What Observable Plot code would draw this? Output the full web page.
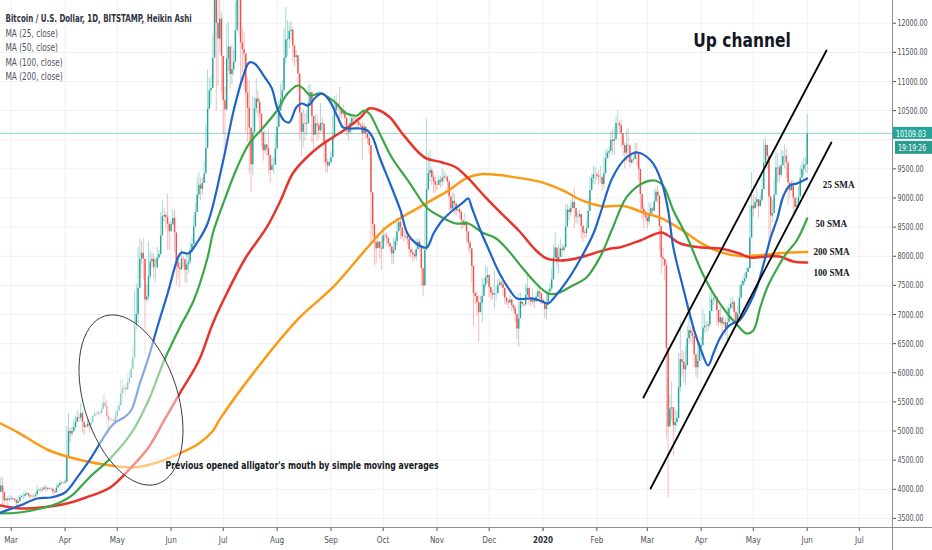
<!DOCTYPE html>
<html><head><meta charset="utf-8">
<script src="https://cdn.jsdelivr.net/npm/d3@7"></script>
<script src="https://cdn.jsdelivr.net/npm/@observablehq/plot@0.6"></script>
<style>
html,body{margin:0;padding:0;background:#fff;}
#chart{width:932px;height:550px;overflow:hidden;}
</style></head><body><div id="chart"></div>
<script>
// ---- Heikin Ashi daily candles [haClose, high, low] per month ----
const feb2019 = [[4055,4200,3940],[3950,4200,3730],[3805,3880,3740],[3830,3860,3790],[3810,3870,3670],[3830,3900,3780]];
const mar2019 = [[3840,3880,3810],[3830,3850,3790],[3810,3840,3770],[3760,3820,3690],[3790,3880,3700],[3860,3900,3830],[3875,3910,3850],
[3880,3940,3820],[3910,3960,3850],[3925,3950,3880],[3890,3930,3840],[3870,3900,3830],[3875,3900,3850],[3870,3920,3820],
[3900,3940,3860],[3970,4060,3910],[3985,4010,3960],[3980,4030,3940],[3995,4030,3960],[4020,4060,3980],[4010,4070,3950],
[3995,4030,3970],[4005,4030,3990],[4000,4020,3980],[3955,4000,3880],[3940,3970,3910],[4020,4090,3940],[4060,4090,4030],
[4100,4150,4050],[4110,4130,4070],[4105,4120,4090]];
const apr2019 = [[4125,4160,4090],[4560,5080,4110],[4990,5300,4800],[4950,5050,4800],[4990,5060,4900],[5060,5200,4980],[5150,5260,5030],
[5230,5350,5150],[5220,5300,5150],[5300,5470,5170],[5150,5340,4960],[5060,5100,4920],[5075,5110,5040],[5120,5180,5050],
[5100,5200,4970],[5140,5250,5020],[5250,5300,5200],[5290,5350,5250],[5285,5330,5230],[5310,5350,5270],[5300,5340,5240],
[5370,5450,5270],[5480,5620,5380],[5420,5640,5380],[5250,5520,5040],[5180,5300,4950],[5190,5220,5150],[5185,5220,5140],
[5160,5200,5100],[5240,5340,5140]];
const may2019 = [[5340,5400,5300],[5430,5500,5360],[5640,5880,5450],[5720,5880,5500],[5740,5800,5640],[5700,5800,5600],[5830,5980,5700],
[5900,6000,5800],[6060,6200,5950],[6250,6450,6100],[6800,7400,6350],[7000,7520,6700],[7450,8150,6850],[7950,8300,7600],
[8050,8250,7850],[7950,8300,7600],[7250,7950,6300],[7300,7500,7200],[7650,8250,7250],[7900,8100,7600],[7950,8050,7800],
[7800,8050,7600],[7800,7950,7550],[7970,8150,7850],[8030,8100,7950],[8350,8750,8000],[8680,8950,8550],[8700,8820,8600],
[8660,8750,8450],[8550,9070,8100],[8420,8580,8100]];
const jun2019 = [[8540,8600,8450],[8650,8800,8520],[8400,8780,8070],[7900,8140,7500],[7800,7950,7600],[7770,7880,7460],[7950,8120,7760],
[7940,8000,7800],[7760,7950,7550],[7850,8050,7530],[7900,8000,7700],[8100,8230,7860],[8200,8320,8050],[8500,8700,8200],
[8750,8900,8600],[9050,9350,8850],[9220,9450,8980],[9150,9350,8950],[9250,9330,9050],[9410,9620,9250],[9850,10250,9520],
[10520,11200,9950],[10840,11050,10550],[10880,11100,10600],[11400,11800,10950],[12590,13880,11700],[12000,13310,10490],[11730,12450,10910],
[12070,12400,11510],[11430,12180,10800]];
const jul2019 = [[10670,11210,10090],[10510,10910,9740],[11390,11970,10820],[11590,12010,11170],[11120,11400,10870],[11200,11620,10950],[11330,11540,11100],
[11870,12350,11390],[12470,12780,12230],[12410,13130,11780],[11660,12140,11010],[11550,11910,11140],[11470,11840,10840],[10800,11450,10120],
[10540,11050,9950],[10200,11000,9420],[9570,9960,9100],[10120,10740,9380],[10530,10720,10230],[10700,11050,10450],[10640,10840,10370],
[10440,10680,10140],[10125,10350,9880],[9810,9920,9630],[9910,10150,9770],[9850,9920,9720],[9730,10170,9410],[9470,9580,9250],
[9555,9680,9470],[9560,9700,9420],[9840,10090,9600]];
const aug2019 = [[10210,10450,9920],[10490,10660,10370],[10700,10950,10500],[10840,11010,10550],[11400,11900,10960],[11710,12270,11290],[11720,12040,11430],
[11860,12000,11560],[11880,12030,11690],[11610,11920,11320],[11410,11520,11250],[11440,11530,11320],[11130,11420,10830],[10460,10890,10000],
[10130,10440,9720],[10270,10520,9860],[10260,10450,9980],[10280,10490,10070],[10630,10930,10320],[10810,10950,10620],[10400,10760,9950],
[10080,10230,9830],[10270,10440,10080],[10240,10420,9970],[10150,10300,10010],[10280,10620,10130],[10260,10380,10090],[9960,10280,9600],
[9610,9760,9420],[9550,9660,9430],[9610,9670,9530]];
const sep2019 = [[9690,9800,9580],[10060,10400,9730],[10500,10740,10310],[10610,10770,10480],[10570,10630,10480],[10530,10900,10290],[10440,10560,10350],
[10490,10600,10410],[10370,10500,10220],[10210,10340,10060],[10120,10220,9980],[10280,10440,10100],[10360,10440,10230],[10350,10420,10290],
[10350,10390,10310],[10300,10390,10190],[10250,10300,10200],[10230,10280,10190],[10100,10300,9650],[10220,10290,10130],[10100,10180,10010],
[10020,10070,9920],[9900,10070,9730],[9090,9800,8220],[8540,8740,8330],[8230,8490,7830],[8130,8270,7870],[8240,8320,8140],
[8140,8250,7950],[8120,8330,7760]];
const oct2019 = [[8350,8500,8260],[8345,8390,8250],[8310,8410,8180],[8220,8260,8150],[8160,8220,8070],[8040,8160,7850],[8100,8310,7860],
[8250,8330,8180],[8420,8660,8180],[8580,8640,8490],[8490,8770,8290],[8335,8410,8280],[8330,8430,8240],[8340,8390,8280],
[8295,8410,8190],[8110,8220,7990],[8060,8120,7970],[8030,8140,7900],[7990,8080,7940],[8110,8300,7910],[8240,8300,8190],
[8170,8300,8070],[7790,8090,7480],[7495,7530,7300],[8100,8790,7480],[9140,10350,8650],[9420,9750,9120],[9470,9810,9260],
[9350,9520,9220],[9285,9430,9080],[9220,9380,9100]];
const nov2019 = [[9215,9280,9130],[9300,9380,9250],[9275,9370,9170],[9340,9510,9190],[9360,9460,9260],[9355,9420,9300],[9275,9370,9140],
[9020,9270,8770],[8810,8870,8770],[8945,9100,8800],[8900,9070,8710],[8780,8850,8680],[8800,8840,8760],[8750,8830,8650],
[8610,8770,8460],[8530,8590,8480],[8590,8730,8500],[8420,8570,8230],[8230,8310,8090],[8130,8270,8030],[7830,8100,7540],
[7360,7700,6790],[7310,7370,7170],[7200,7400,6970],[7030,7320,6520],[7195,7320,7100],[7310,7620,6860],[7510,7620,7430],
[7630,7840,7460],[7670,7810,7520]];
const dec2019 = [[7465,7570,7290],[7365,7470,7230],[7330,7420,7250],[7350,7740,7090],[7355,7480,7230],[7495,7600,7380],[7540,7620,7490],
[7510,7580,7450],[7450,7620,7310],[7285,7400,7170],[7215,7270,7160],[7195,7270,7090],[7250,7310,7220],[7155,7240,7050],
[7100,7170,7050],[7000,7140,6850],[6750,6920,6570],[6925,7350,6430],[7215,7370,7060],[7170,7220,7120],[7165,7190,7120],
[7330,7520,7140],[7450,7700,7260],[7290,7440,7160],[7215,7270,7130],[7250,7440,7160],[7215,7290,7100],[7295,7370,7240],
[7390,7510,7290],[7360,7450,7270],[7250,7340,7170]];
const jan2020 = [[7205,7250,7170],[7085,7210,6930],[7165,7410,6910],[7375,7430,7310],[7440,7540,7400],[7595,7780,7410],[7970,8180,7770],
[8140,8400,7960],[7930,8080,7790],[7980,8200,7700],[8125,8290,7990],[8100,8200,7980],[8150,8200,8070],[8500,8880,8140],
[8795,8890,8660],[8750,8850,8610],[8820,8960,8680],[8925,9010,8810],[8820,9160,8470],[8670,8750,8560],[8675,8760,8540],
[8715,8790,8640],[8515,8680,8300],[8400,8520,8240],[8390,8440,8300],[8470,8600,8320],[8770,8980,8590],[9130,9360,8890],
[9335,9410,9260],[9400,9550,9230],[9400,9520,9230]];
const feb2020 = [[9375,9440,9310],[9355,9470,9220],[9355,9540,9250],[9230,9330,9110],[9415,9700,9160],[9675,9820,9540],[9770,9830,9730],
[9800,9880,9670],[9990,10130,9850],[9970,10170,9740],[10000,10210,9730],[10280,10390,10200],[10280,10500,10110],[10240,10320,10120],
[10105,10340,9870],[9900,10050,9720],[9770,9940,9500],[9905,10160,9630],[9895,10190,9610],[9600,9640,9510],[9650,9720,9580],
[9660,9700,9600],[9795,9940,9660],[9765,9950,9540],[9490,9650,9300],[9060,9340,8730],[8805,8980,8630],[8710,8890,8470],
[8660,8780,8600]];
const mar2020 = [[8590,8730,8470],[8720,8920,8530],[8815,8900,8700],[8775,8840,8710],[8935,9140,8760],[9100,9170,9030],[9035,9220,8890],
[8510,8910,8100],[7975,8180,7690],[7945,8140,7810],[7840,7950,7590],[6420,7930,4860],[5070,5900,3850],[5380,5630,5120],
[5400,5840,5170],[5090,5390,4570],[5145,5370,4980],[5215,5330,5070],[5750,6330,5240],[6225,6900,5670],[6175,6380,5930],
[6050,6360,5820],[6120,6440,5780],[6585,6790,6380],[6720,6960,6490],[6675,6780,6530],[6625,6850,6470],[6310,6470,6080],
[6085,6250,5920],[6195,6520,5900],[6435,6500,6370]];
const apr2020 = [[6465,6610,6200],[6770,7090,6590],[6800,7000,6670],[6795,6880,6700],[6815,6880,6710],[7050,7360,6770],[7250,7460,7090],
[7265,7380,7150],[7295,7340,7200],[7070,7300,6800],[6860,6930,6790],[6940,7120,6810],[6835,6970,6550],[6860,6960,6790],
[6760,6930,6630],[6860,7130,6550],[7100,7170,7020],[7175,7270,7080],[7205,7290,7090],[7040,7240,6830],[6880,6930,6830],
[7000,7150,6870],[7280,7490,7080],[7500,7570,7430],[7565,7670,7470],[7615,7700,7510],[7720,7800,7620],[7790,7810,7730],
[8315,8870,7790],[8860,9440,8530]];
const may2020 = [[8815,9050,8670],[8920,9010,8810],[8970,9170,8830],[8850,8960,8650],[8960,9060,8860],[9145,9370,8920],[9590,9990,9140],
[9900,10030,9770],[9715,9910,9510],[9015,9600,8120],[8690,9030,8370],[8735,8950,8570],[9050,9320,8800],[9515,9790,9250],
[9520,9760,9260],[9385,9560,9260],[9555,9820,9350],[9710,9810,9640],[9715,9910,9500],[9605,9830,9330],[9260,9560,8870],
[9125,9230,9010],[9205,9300,9120],[9000,9300,8700],[8840,8950,8720],[8875,8990,8760],[9015,9200,8830],[9340,9550,9110],
[9490,9610,9390],[9555,9700,9370],[9575,9700,9430]];
const jun2020 = [[10100,10430,9420]];
const firstOpen = 3950;
const lastPrice = 10109.03;
const lastPriceLabel = "10109.03";
const countdownLabel = "19:19:26";

// ---- moving averages [date, value] ----
const ma25 = [["2019-02-23",3602],["2019-03-06",3722],["2019-03-16",3842],["2019-03-24",3859],["2019-04-01",3945],["2019-04-08",4203],["2019-04-15",4495],["2019-04-21",4786],["2019-04-27",5061],["2019-04-30",5147],["2019-05-05",5233],["2019-05-09",5353],["2019-05-14",5816],["2019-05-19",6262],["2019-05-24",6777],["2019-05-30",7361],["2019-06-05",7979],["2019-06-07",8065],["2019-06-11",8048],["2019-06-16",8236],["2019-06-22",8562],["2019-07-01",9644],["2019-07-07",10502],["2019-07-13",11137],["2019-07-16",11326],["2019-07-19",11309],["2019-07-25",11068],["2019-07-29",10880],["2019-08-01",10553],["2019-08-05",10330],["2019-08-08",10296],["2019-08-12",10553],["2019-08-15",10622],["2019-08-19",10588],["2019-08-23",10725],["2019-08-27",10794],["2019-08-31",10674],["2019-09-05",10382],["2019-09-08",10210],["2019-09-12",10193],["2019-09-18",10193],["2019-09-22",10159],["2019-09-25",10039],["2019-09-29",9695],["2019-10-05",9249],["2019-10-11",8786],["2019-10-15",8391],["2019-10-20",8219],["2019-10-26",8150],["2019-10-30",8391],["2019-11-04",8614],["2019-11-10",8786],["2019-11-16",8923],["2019-11-19",8992],["2019-11-21",8837],["2019-11-26",8442],["2019-12-01",8099],["2019-12-07",7704],["2019-12-13",7412],["2019-12-17",7275],["2019-12-26",7275],["2019-12-30",7241],["2020-01-04",7189],["2020-01-07",7275],["2020-01-15",7584],["2020-01-23",7979],["2020-01-30",8391],["2020-02-03",8734],["2020-02-10",9352],["2020-02-18",9695],["2020-02-24",9781],["2020-03-03",9644],["2020-03-09",9300],["2020-03-13",8786],["2020-03-16",8150],["2020-03-22",7412],["2020-03-28",6726],["2020-04-01",6383],["2020-04-05",6125],["2020-04-08",6331],["2020-04-12",6606],["2020-04-16",6777],["2020-04-19",6846],["2020-04-23",6898],["2020-04-29",7189],["2020-05-03",7464],["2020-05-07",7876],["2020-05-11",8322],["2020-05-15",8665],["2020-05-18",9009],["2020-05-22",9215],["2020-05-26",9249],["2020-06-01",9335]];
const ma50 = [["2019-02-23",3585],["2019-03-06",3602],["2019-03-18",3670],["2019-03-29",3774],["2019-04-05",3894],["2019-04-15",4203],["2019-04-27",4529],["2019-05-09",4958],["2019-05-19",5524],["2019-05-28",6211],["2019-06-06",6777],["2019-06-14",7241],["2019-06-22",7979],["2019-06-25",8391],["2019-07-01",8906],["2019-07-09",9524],["2019-07-16",9936],["2019-07-24",10210],["2019-08-01",10502],["2019-08-07",10794],["2019-08-13",10931],["2019-08-16",10880],["2019-08-20",10760],["2019-08-26",10794],["2019-09-02",10674],["2019-09-10",10451],["2019-09-16",10416],["2019-09-20",10502],["2019-09-23",10451],["2019-09-29",10107],["2019-10-06",9695],["2019-10-14",9352],["2019-10-18",9180],["2019-10-26",8837],["2019-11-04",8665],["2019-11-12",8562],["2019-11-19",8562],["2019-11-27",8408],["2019-12-05",8305],["2019-12-12",8099],["2019-12-20",7807],["2019-12-28",7533],["2020-01-04",7361],["2020-01-09",7361],["2020-01-18",7498],["2020-01-26",7636],["2020-02-03",7996],["2020-02-10",8480],["2020-02-18",9009],["2020-02-27",9249],["2020-03-05",9300],["2020-03-10",9215],["2020-03-16",8786],["2020-03-24",8322],["2020-04-01",7756],["2020-04-08",7361],["2020-04-16",7018],["2020-04-21",6846],["2020-04-27",6674],["2020-05-01",6726],["2020-05-05",7121],["2020-05-09",7464],["2020-05-15",7807],["2020-05-20",8048],["2020-05-26",8271],["2020-06-01",8648]];
const ma100 = [["2019-02-23",3722],["2019-03-06",3670],["2019-03-18",3687],["2019-04-02",3756],["2019-04-13",3859],["2019-04-27",4031],["2019-05-09",4374],["2019-05-19",4718],["2019-05-28",5181],["2019-06-06",5645],["2019-06-17",6211],["2019-06-25",6846],["2019-07-03",7361],["2019-07-14",7979],["2019-07-26",8494],["2019-08-03",8957],["2019-08-10",9421],["2019-08-18",9695],["2019-08-26",9901],["2019-09-02",10039],["2019-09-10",10193],["2019-09-18",10382],["2019-09-23",10536],["2019-09-29",10502],["2019-10-05",10382],["2019-10-12",10107],["2019-10-22",9764],["2019-10-26",9678],["2019-11-04",9610],["2019-11-12",9524],["2019-11-19",9335],["2019-11-29",9009],["2019-12-08",8734],["2019-12-18",8442],["2019-12-28",8099],["2020-01-03",7962],["2020-01-11",7928],["2020-01-20",7962],["2020-01-30",8048],["2020-02-09",8134],["2020-02-14",8150],["2020-02-26",8271],["2020-03-09",8408],["2020-03-13",8356],["2020-03-20",8219],["2020-04-01",8150],["2020-04-12",8134],["2020-04-23",8048],["2020-04-29",7979],["2020-05-09",7996],["2020-05-16",7996],["2020-05-24",7910],["2020-06-01",7893]];
const ma200 = [["2019-02-23",5129],["2019-03-06",4957],["2019-03-23",4666],["2019-04-11",4494],["2019-04-27",4409],["2019-05-10",4374],["2019-05-24",4460],["2019-06-06",4615],["2019-06-17",4786],["2019-06-25",5000],["2019-06-29",5200],["2019-07-24",6211],["2019-08-14",6949],["2019-09-02",7464],["2019-09-22",8150],["2019-10-03",8500],["2019-10-22",8843],["2019-10-26",8912],["2019-11-08",9135],["2019-11-18",9341],["2019-11-27",9410],["2019-12-07",9393],["2019-12-19",9341],["2019-12-31",9272],["2020-01-12",9135],["2020-01-23",8963],["2020-02-04",8860],["2020-02-17",8860],["2020-02-27",8757],["2020-03-09",8654],["2020-03-21",8448],["2020-04-01",8225],["2020-04-12",8071],["2020-04-24",8002],["2020-05-05",8019],["2020-05-17",8054],["2020-06-01",8071]];

// ---- annotations ----
const channelUpper = [["2020-02-27T19:00Z",5575],["2020-06-12T02:00Z",11531]];
const channelLower = [["2020-03-02T22:00Z",4013],["2020-06-14T22:00Z",9952]];
const ellipseCenter = ["2019-05-09T05:00Z",5524];
const smaLabels = [
  {text:"25 SMA", date:"2020-06-10T00:00Z", price:9232},
  {text:"50 SMA", date:"2020-06-05T19:00Z", price:8562},
  {text:"200 SMA", date:"2020-06-04T14:00Z", price:8082},
  {text:"100 SMA", date:"2020-06-04T14:00Z", price:7721}
];
const titleNote = {text:"Up channel", date:"2020-04-24T12:00Z", price:11703};
const mouthNote = {text:"Previous opened alligator's mouth by simple moving averages", date:"2019-05-28T19:00Z", price:4409};
const legendTitle = "Bitcoin / U.S. Dollar, 1D, BITSTAMP, Heikin Ashi";
const legendItems = ["MA (25, close)","MA (50, close)","MA (100, close)","MA (200, close)"];

// ---- axes ----
const priceTicks = [3500,4000,4500,5000,5500,6000,6500,7000,7500,8000,8500,9000,9500,10000,10500,11000,11500,12000];
const priceLabels = [3500,4000,4500,5000,5500,6000,6500,7000,7500,8000,8500,9000,9500,10500,11000,11500,12000]; // 10000 is hidden under the price badges
const monthTicks = ["2019-03-01","2019-04-01","2019-05-01","2019-06-01","2019-07-01","2019-08-01","2019-09-01","2019-10-01","2019-11-01","2019-12-01","2020-01-01","2020-02-01","2020-03-01","2020-04-01","2020-05-01","2020-06-01","2020-07-01"];
const monthLabels = ["Mar","Apr","May","Jun","Jul","Aug","Sep","Oct","Nov","Dec","2020","Feb","Mar","Apr","May","Jun","Jul"];
const xDomain = [new Date("2019-02-22T20:15Z"), new Date("2020-07-20T02:00Z")];
const yDomain = [3344, 12390];

const blocks = [["2019-02-23",feb2019],["2019-03-01",mar2019],["2019-04-01",apr2019],["2019-05-01",may2019],["2019-06-01",jun2019],["2019-07-01",jul2019],["2019-08-01",aug2019],["2019-09-01",sep2019],["2019-10-01",oct2019],["2019-11-01",nov2019],["2019-12-01",dec2019],["2020-01-01",jan2020],["2020-02-01",feb2020],["2020-03-01",mar2020],["2020-04-01",apr2020],["2020-05-01",may2020],["2020-06-01",jun2020]];

const DAY = 86400000;
const UP = "#26a69a", DOWN = "#ef5350";
const candles = [];
let prev = firstOpen;
for (const [s, rows] of blocks) {
  const t0 = Date.parse(s);
  rows.forEach(([c,h,l], i) => {
    candles.push({date: new Date(t0 + i*DAY), o: prev, c, h, l, col: c >= prev ? UP : DOWN});
    prev = c;
  });
}
const tickDates = monthTicks.map(d => new Date(d));
const labelOf = new Map(tickDates.map((d,i) => [+d, monthLabels[i]]));
const boldTick = tickDates.filter((d,i) => monthLabels[i] === "2020");
const plainTicks = tickDates.filter((d,i) => monthLabels[i] !== "2020");

const SANS = "'DejaVu Sans Condensed','DejaVu Sans',sans-serif";
const SERIF = "'Liberation Serif','DejaVu Serif',serif";
const SVGNS = "http://www.w3.org/2000/svg";
function el(tag, attrs, text) {
  const e = document.createElementNS(SVGNS, tag);
  for (const k in attrs) e.setAttribute(k, attrs[k]);
  if (text != null) e.textContent = text;
  return e;
}
const line = (data, stroke, w) => Plot.line(data, {x: d => new Date(d[0]), y: d => d[1], stroke, strokeWidth: w, curve: "catmull-rom", clip: true});

function ellipseMark(index, scales) {
  const cx = scales.x(new Date(ellipseCenter[0])), cy = scales.y(ellipseCenter[1]);
  return el("ellipse", {cx, cy, rx: 88, ry: 47, transform: `rotate(72.6 ${cx} ${cy})`, fill: "#fff", "fill-opacity": 0.45, stroke: "#3a3a3a", "stroke-width": 0.9});
}
function chrome(index, scales, values, dim) {
  const g = el("g", {"text-anchor": "start"});
  const right = dim.width - dim.marginRight, bottom = dim.height - dim.marginBottom;
  g.appendChild(el("line", {x1: right + 0.5, x2: right + 0.5, y1: 0, y2: dim.height, stroke: "#8a8e99", "stroke-width": 1}));
  g.appendChild(el("line", {x1: 0, x2: dim.width, y1: bottom + 0.5, y2: bottom + 0.5, stroke: "#8a8e99", "stroke-width": 1}));
  const y = scales.y(lastPrice);
  g.appendChild(el("rect", {x: right + 1, y: y - 6, width: dim.marginRight - 1, height: 12, fill: UP}));
  g.appendChild(el("text", {x: right + 4, y: y + 0.5, fill: "#fff", "text-anchor": "start", "font-size": 9.5, "font-family": SANS, "dominant-baseline": "central"}, lastPriceLabel));
  g.appendChild(el("rect", {x: right + 3, y: y + 8, width: dim.marginRight - 3, height: 13, fill: "#2a9d8f"}));
  g.appendChild(el("text", {x: right + 6, y: y + 14.8, fill: "#fff", "text-anchor": "start", "font-size": 9.5, "font-family": SANS, "dominant-baseline": "central"}, countdownLabel));
  return g;
}

const plot = Plot.plot({
  width: 932, height: 550,
  marginLeft: 0, marginRight: 40, marginTop: 0, marginBottom: 23,
  style: {fontFamily: SANS, background: "#fff", overflow: "hidden"},
  x: {type: "utc", domain: xDomain, axis: null},
  y: {domain: yDomain, axis: null},
  color: {type: "identity"},
  marks: [
    Plot.gridX(tickDates, {stroke: "#edf0f4", strokeOpacity: 1}),
    Plot.gridY(priceTicks, {stroke: "#edf0f4", strokeOpacity: 1}),
    Plot.ruleY([lastPrice], {stroke: UP, strokeOpacity: 0.5}),
    Plot.ruleX(candles, {x: "date", y1: "l", y2: "h", stroke: "col", strokeOpacity: 0.5, strokeWidth: 0.8, clip: true}),
    Plot.ruleX(candles, {x: "date", y1: "o", y2: "c", stroke: "col", strokeWidth: 1.45, clip: true}),
    line(ma200, "#fb9a14", 2.5),
    line(ma100, "#e8352b", 2.5),
    line(ma50, "#3ba647", 2.2),
    line(ma25, "#1f64c8", 2.2),
    ellipseMark,
    Plot.line(channelUpper, {x: d => new Date(d[0]), y: d => d[1], stroke: "#000", strokeWidth: 1.8}),
    Plot.line(channelLower, {x: d => new Date(d[0]), y: d => d[1], stroke: "#000", strokeWidth: 1.8}),
    Plot.text([titleNote], {x: d => new Date(d.date), y: "price", text: "text", fontSize: 20, fontWeight: "bold", fill: "#131722"}),
    Plot.text([mouthNote], {x: d => new Date(d.date), y: "price", text: "text", textAnchor: "start", fontSize: 11, fontWeight: "bold", fill: "#131722"}),
    Plot.text(smaLabels, {x: d => new Date(d.date), y: "price", text: "text", textAnchor: "start", fontSize: 10.5, fontWeight: "bold", fill: "#131722", fontFamily: SERIF}),
    Plot.text([legendTitle], {frameAnchor: "top-left", text: d => d, dx: 5, dy: 14, textAnchor: "start", fontSize: 10.5, fontWeight: "bold", fill: "#2f3241"}),
    ...legendItems.map((t, i) => Plot.text([t], {frameAnchor: "top-left", text: d => d, dx: 5, dy: 29 + i * 14.4, textAnchor: "start", fontSize: 10.5, fill: "#50535e"})),
    Plot.axisY(priceLabels, {anchor: "right", tickSize: 3, tickPadding: 2, tickFormat: d => d.toFixed(2), fontSize: 9.5, color: "#50535e"}),
    Plot.axisX(plainTicks, {anchor: "bottom", tickSize: 4, tickPadding: 5, tickFormat: d => labelOf.get(+d), fontSize: 9.5, color: "#50535e"}),
    Plot.axisX(boldTick, {anchor: "bottom", tickSize: 4, tickPadding: 5, tickFormat: d => labelOf.get(+d), fontSize: 9.5, fontWeight: "bold", color: "#2f3241"}),
    chrome
  ]
});
document.getElementById("chart").appendChild(plot);

// narrow the glyphs horizontally to the condensed look of the original (styling only)
function condense(t, f) {
  const x = parseFloat(t.getAttribute("x")) || 0;
  const tr = t.getAttribute("transform") || "";
  t.setAttribute("transform", `${tr} translate(${x},0) scale(${f},1) translate(${-x},0)`.trim());
}
for (const t of plot.querySelectorAll("text")) {
  const s = t.textContent.trim();
  let f = null;
  if (s === lastPriceLabel || s === countdownLabel || /^\d+\.00$/.test(s)) f = 0.74;
  else if (monthLabels.includes(s)) f = 0.85;
  else if (legendItems.includes(s)) f = 0.78;
  else if (s === legendTitle) f = 0.75;
  else if (s === titleNote.text) f = 0.86;
  else if (s === mouthNote.text) f = 0.785;
  else if (/SMA$/.test(s)) f = 0.87;
  if (f) condense(t, f);
}
</script></body></html>
